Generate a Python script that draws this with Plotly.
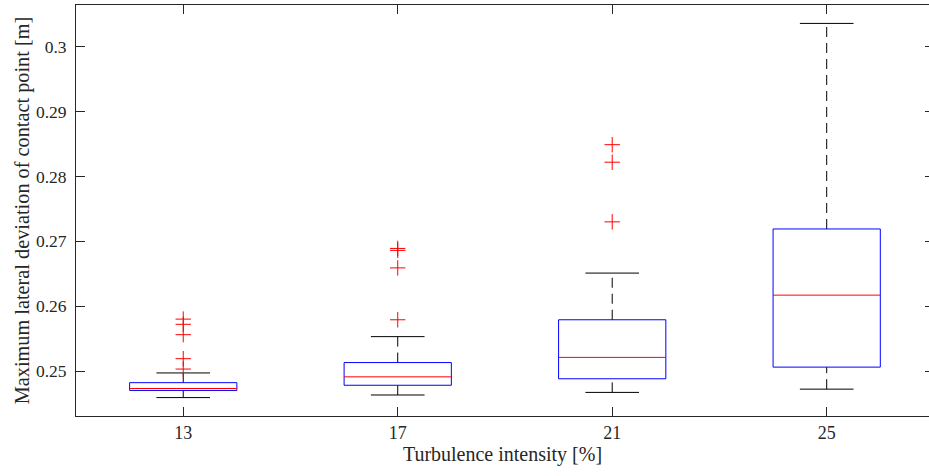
import plotly.graph_objects as go

categories = ["13", "17", "21", "25"]
q1 = [0.2470, 0.2478, 0.2488, 0.2506]
median = [0.2473, 0.2491, 0.2521, 0.2617]
q3 = [0.2482, 0.2513, 0.2579, 0.2719]
lower_whisker = [0.2459, 0.2463, 0.2467, 0.2472]
upper_whisker = [0.2497, 0.2553, 0.2651, 0.3036]
outliers = [
    [0.2580, 0.2572, 0.2556, 0.2519, 0.2503],
    [0.2689, 0.2686, 0.2659, 0.2579],
    [0.2849, 0.2822, 0.2730],
    [],
]
y_ticks = [0.25, 0.26, 0.27, 0.28, 0.29, 0.30]
y_tick_labels = ["0.25", "0.26", "0.27", "0.28", "0.29", "0.3"]

BOX_HALF = 0.25
CAP_HALF = 0.125
FONT = "Liberation Serif"
TXT = "#262626"

bx, by, mx, my, wx, wy, cx, cy, ox, oy = [], [], [], [], [], [], [], [], [], []
for i, _ in enumerate(categories):
    p = i + 1
    bx += [p - BOX_HALF, p + BOX_HALF, p + BOX_HALF, p - BOX_HALF, p - BOX_HALF, None]
    by += [q1[i], q1[i], q3[i], q3[i], q1[i], None]
    mx += [p - BOX_HALF, p + BOX_HALF, None]
    my += [median[i], median[i], None]
    wx += [p, p, None, p, p, None]
    wy += [q3[i], upper_whisker[i], None, lower_whisker[i], q1[i], None]
    cx += [p - CAP_HALF, p + CAP_HALF, None, p - CAP_HALF, p + CAP_HALF, None]
    cy += [upper_whisker[i], upper_whisker[i], None, lower_whisker[i], lower_whisker[i], None]
    for v in outliers[i]:
        ox.append(p)
        oy.append(v)

fig = go.Figure()
fig.add_trace(go.Scatter(x=wx, y=wy, mode="lines", line=dict(color="black", width=1, dash="10px,6px"), hoverinfo="skip"))
fig.add_trace(go.Scatter(x=cx, y=cy, mode="lines", line=dict(color="black", width=1), hoverinfo="skip"))
fig.add_trace(go.Scatter(x=bx, y=by, mode="lines", line=dict(color="rgb(0,0,255)", width=1), hoverinfo="skip"))
fig.add_trace(go.Scatter(x=mx, y=my, mode="lines", line=dict(color="rgb(255,0,0)", width=1), hoverinfo="skip"))
fig.add_trace(go.Scatter(x=ox, y=oy, mode="markers",
                         marker=dict(symbol="cross-thin", size=11, color="rgb(255,0,0)",
                                     line=dict(color="rgb(255,0,0)", width=1))))
# invisible trace for the right-hand tick axis
fig.add_trace(go.Scatter(x=[1], y=[0.25], yaxis="y2", mode="markers", marker=dict(opacity=0), hoverinfo="skip"))

yr = [0.24306, 0.30644]
fig.update_layout(
    width=929, height=476,
    margin=dict(l=76, r=0, t=5, b=60, autoexpand=False),
    paper_bgcolor="white", plot_bgcolor="white",
    showlegend=False,
    font=dict(family=FONT, color=TXT, size=18),
    xaxis=dict(
        range=[0.5, 4.477], tickvals=[1, 2, 3, 4], ticktext=categories,
        ticks="inside", ticklen=9, tickcolor=TXT, showline=True, linecolor=TXT, linewidth=1,
        mirror="ticks", showgrid=False, zeroline=False, automargin=False,
        tickfont=dict(family=FONT, size=18, color=TXT),
        title=dict(text="Turbulence intensity [%]", font=dict(family=FONT, size=20, color=TXT), standoff=4),
    ),
    yaxis=dict(
        range=yr, tickvals=y_ticks, ticktext=y_tick_labels,
        ticks="inside", ticklen=9, tickcolor=TXT, showline=True, linecolor=TXT, linewidth=1,
        mirror=False, showgrid=False, zeroline=False, ticklabelstandoff=5, automargin=False,
        tickfont=dict(family=FONT, size=17.5, color=TXT),
        title=dict(text="Maximum lateral deviation of contact point [m]", font=dict(family=FONT, size=20.3, color=TXT), standoff=0),
    ),
    yaxis2=dict(
        range=yr, overlaying="y", side="right", tickvals=y_ticks, showticklabels=False,
        ticks="inside", ticklen=4, tickcolor=TXT, showline=False, showgrid=False, zeroline=False,
        automargin=False,
    ),
)

fig.write_html("out.html", config={"displayModeBar": False},
               post_script="document.body.style.margin='0';document.body.style.overflow='hidden';")
